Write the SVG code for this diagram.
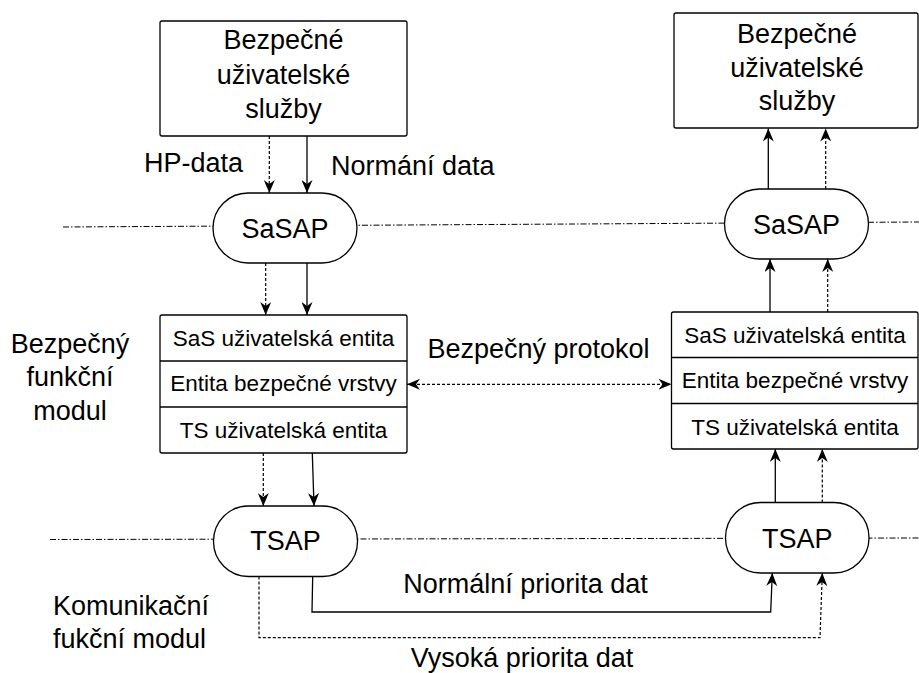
<svg xmlns="http://www.w3.org/2000/svg" width="919" height="673" viewBox="0 0 919 673">
<defs>
<style>
text{font-family:"Liberation Sans",Arial,sans-serif;fill:#000}
.big{font-size:27px}
.sm{font-size:22.5px}
.mid{text-anchor:middle}
.box{fill:#fff;stroke:#000;stroke-width:1.3}
.div{stroke:#000;stroke-width:1.3}
.sol{fill:none;stroke:#000;stroke-width:1.3}
.dsh{fill:none;stroke:#000;stroke-width:1.2;stroke-dasharray:3,2}
.dd{fill:none;stroke:#000;stroke-width:1;stroke-dasharray:6,2,1.5,2}
</style>
<marker id="ah" markerUnits="userSpaceOnUse" markerWidth="13" markerHeight="11" viewBox="0 0 13 11" refX="13" refY="5.5" orient="auto-start-reverse">
<path d="M0,0 L13,5.5 L0,11 L4,5.5 z" fill="#000"/>
</marker>
</defs>

<g id="layer-lines">
<line class="dd" x1="63" y1="227" x2="919" y2="222"/>
<line class="dd" x1="50" y1="539.5" x2="919" y2="538"/>
</g>

<g id="labels">
<text class="big" x="144" y="172">HP-data</text>
<text class="big" x="331" y="175">Normání data</text>
<text class="big mid" x="70" y="353">Bezpečný</text>
<text class="big mid" x="70" y="386">funkční</text>
<text class="big mid" x="70" y="420">modul</text>
<text class="big" x="53" y="615">Komunikační</text>
<text class="big" x="53" y="648">fukční modul</text>
<text class="big mid" x="538.5" y="358">Bezpečný protokol</text>
<text class="big mid" x="525.5" y="593">Normální priorita dat</text>
<text class="big mid" x="522" y="667">Vysoká priorita dat</text>
</g>

<g id="services-left">
<rect class="box" x="160" y="21" width="247" height="115" rx="2"/>
<text class="big mid" x="283.5" y="49">Bezpečné</text>
<text class="big mid" x="283.5" y="83.5">uživatelské</text>
<text class="big mid" x="283.5" y="118">služby</text>
</g>

<g id="services-right">
<rect class="box" x="674" y="13" width="244" height="115" rx="2"/>
<text class="big mid" x="797" y="43">Bezpečné</text>
<text class="big mid" x="797" y="77">uživatelské</text>
<text class="big mid" x="797" y="110">služby</text>
</g>

<g id="sasap-left">
<rect class="box" x="213" y="193" width="144" height="70" rx="35"/>
<text class="big mid" x="285" y="238">SaSAP</text>
</g>

<g id="sasap-right">
<rect class="box" x="724.5" y="189" width="144" height="70" rx="35"/>
<text class="big mid" x="796.5" y="234">SaSAP</text>
</g>

<g id="module-left">
<rect class="box" x="160" y="315" width="247" height="138" rx="2"/>
<line class="div" x1="160" y1="361" x2="407" y2="361"/>
<line class="div" x1="160" y1="407" x2="407" y2="407"/>
<text class="sm mid" x="283.5" y="346">SaS uživatelská entita</text>
<text class="sm mid" x="283.5" y="391">Entita bezpečné vrstvy</text>
<text class="sm mid" x="283.5" y="438">TS uživatelská entita</text>
</g>

<g id="module-right">
<rect class="box" x="671.5" y="312" width="246.5" height="137" rx="2"/>
<line class="div" x1="671.5" y1="357.5" x2="918" y2="357.5"/>
<line class="div" x1="671.5" y1="403.5" x2="918" y2="403.5"/>
<text class="sm mid" x="795" y="343">SaS uživatelská entita</text>
<text class="sm mid" x="795" y="388">Entita bezpečné vrstvy</text>
<text class="sm mid" x="795" y="435">TS uživatelská entita</text>
</g>

<g id="tsap-left">
<rect class="box" x="213.5" y="506" width="144" height="70.5" rx="35"/>
<text class="big mid" x="285.5" y="550">TSAP</text>
</g>

<g id="tsap-right">
<rect class="box" x="725.5" y="502.5" width="143.5" height="70.5" rx="35"/>
<text class="big mid" x="797.3" y="548">TSAP</text>
</g>

<g id="connectors">
<line class="dsh" x1="269.3" y1="136" x2="269.3" y2="193" marker-end="url(#ah)"/>
<line class="sol" x1="307" y1="136" x2="307" y2="193" marker-end="url(#ah)"/>
<line class="dsh" x1="265.7" y1="263" x2="265.7" y2="315" marker-end="url(#ah)"/>
<line class="sol" x1="307" y1="263" x2="307" y2="315" marker-end="url(#ah)"/>
<line class="dsh" x1="263.3" y1="453" x2="263.3" y2="506" marker-end="url(#ah)"/>
<line class="sol" x1="312.3" y1="453" x2="314" y2="506" marker-end="url(#ah)"/>
<line class="dsh" x1="407" y1="384.3" x2="671.5" y2="384.3" marker-start="url(#ah)" marker-end="url(#ah)"/>
<line class="sol" x1="770" y1="312" x2="770" y2="259" marker-end="url(#ah)"/>
<line class="dsh" x1="827.7" y1="312" x2="827.7" y2="259" marker-end="url(#ah)"/>
<line class="sol" x1="768.3" y1="189" x2="768.3" y2="128.5" marker-end="url(#ah)"/>
<line class="dsh" x1="825.7" y1="189" x2="825.7" y2="128.5" marker-end="url(#ah)"/>
<line class="sol" x1="775.3" y1="502.5" x2="775.3" y2="449" marker-end="url(#ah)"/>
<line class="dsh" x1="822.3" y1="502.5" x2="822.3" y2="449" marker-end="url(#ah)"/>
<polyline class="sol" points="312.7,576.5 312,612 770.7,612 772.3,573" marker-end="url(#ah)"/>
<polyline class="dsh" points="259,576.5 259,637.7 820,637.7 822.3,573" marker-end="url(#ah)"/>
</g>
</svg>
